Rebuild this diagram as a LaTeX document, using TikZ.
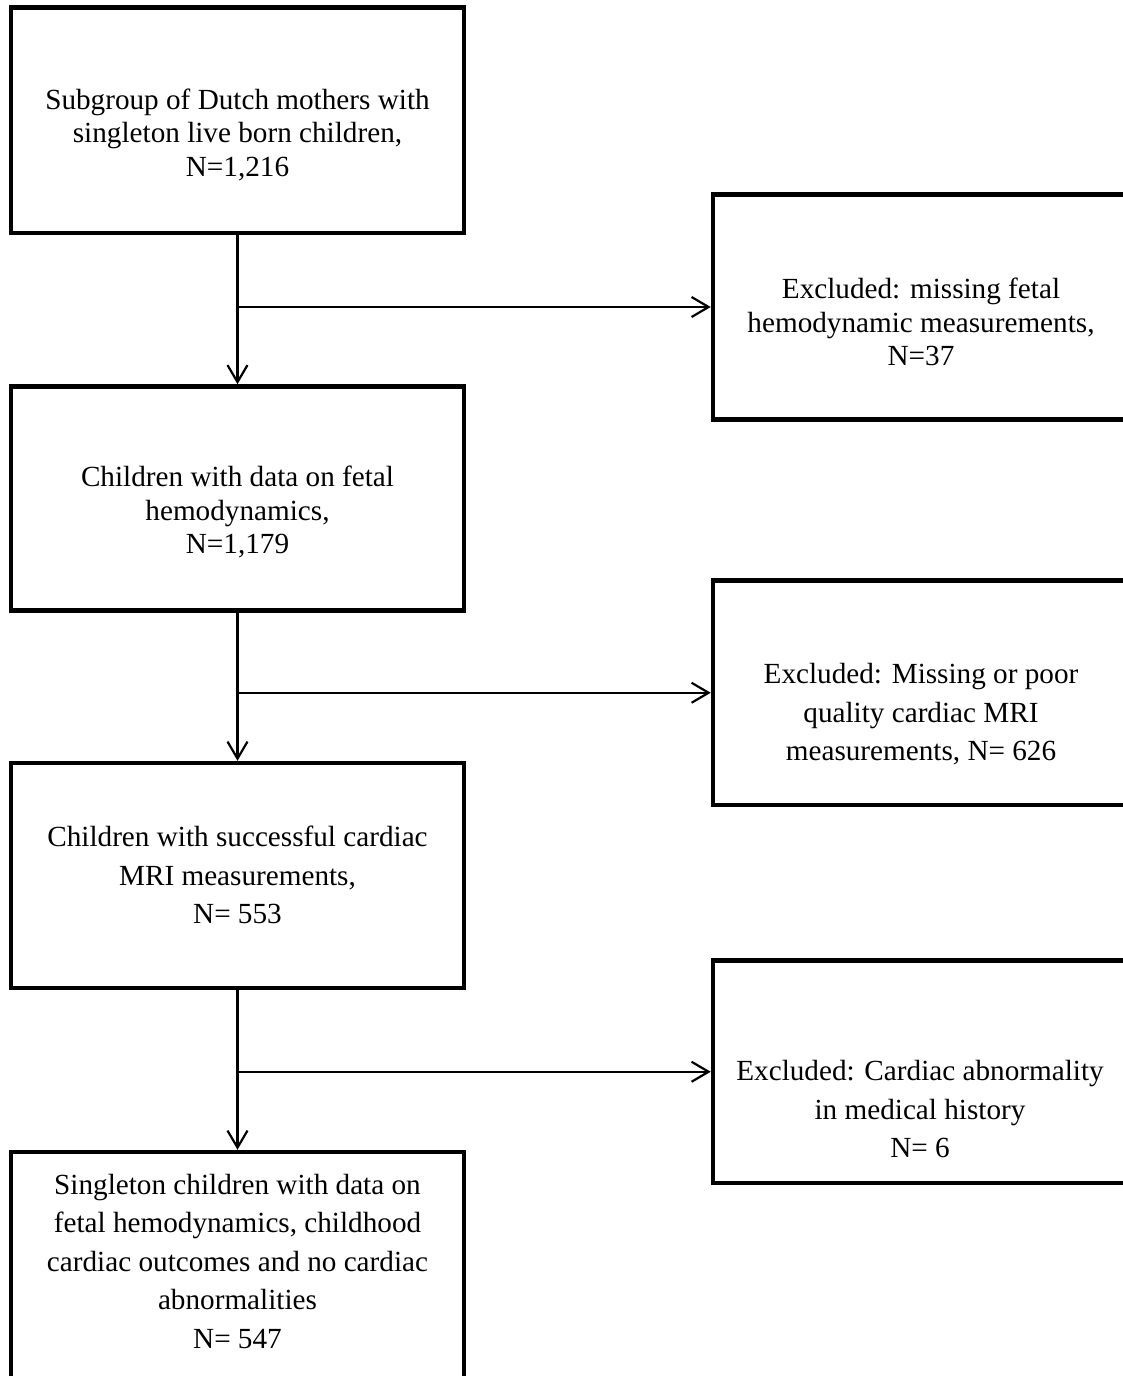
\documentclass[tikz,border=0pt]{standalone}
\usepackage{fontspec}
\setmainfont{Liberation Serif}
\usetikzlibrary{arrows.meta}

\tikzset{
  box/.style={draw,line width=2.25pt,minimum width=226.5pt,inner sep=0pt},
  exbox/.style={box,minimum width=208pt},
  txt/.style={align=center,font=\fontsize{14.6}{16.75}\selectfont},
  txtwide/.style={align=center,font=\fontsize{14.6}{19.25}\selectfont},
  arr/.style={line width=1.1pt,-{Straight Barb[length=8.5pt,width=10pt]}}
}

\begin{document}
\begin{tikzpicture}[x=0.5pt,y=-0.5pt]
    \useasboundingbox (0,0) rectangle (1123,1376);
    \clip (0,0) rectangle (1123,1376);
      % main column
      \node[box,minimum height=112.75pt] (B1) at (237.5,120.25) {};
      \node[box,minimum height=112pt] (B2) at (237.5,498.5) {};
      \node[box,minimum height=112.5pt] (B3) at (237.5,875.5) {};
      \node[box,minimum height=114pt] (B4) at (237.5,1266) {};
      % excluded column
      \node[exbox,minimum height=112.5pt] (R1) at (921,307) {};
      \node[exbox,minimum height=112.25pt] (R2) at (921,692.75) {};
      \node[exbox,minimum height=111.25pt] (R3) at (921,1071.75) {};
      % texts
      \node[txt] (T1) at (237.5,134.5) {Subgroup of Dutch mothers with\\singleton live born children,\\N=1,216};
      \node[txt] (T2) at (237.5,512) {Children with data on fetal\\hemodynamics,\\N=1,179};
      \node[txtwide] (T3) at (237.5,875) {Children with successful cardiac\\MRI measurements,\\N= 553};
      \node[txtwide] (T4) at (237.5,1261) {Singleton children with data on\\fetal hemodynamics, childhood\\cardiac outcomes and no cardiac\\abnormalities\\N= 547};
      \node[txt] (U1) at (921,322) {Excluded: missing fetal\\hemodynamic measurements,\\N=37};
      \node[txtwide] (U2) at (921,714.5) {Excluded: Missing or poor\\quality cardiac MRI\\measurements, N= 626};
      \node[txtwide] (U3) at (920,1109) {Excluded: Cardiac abnormality\\in medical history\\N= 6};
      % arrows down
      \draw[arr] (B1.south) -- (B2.north);
      \draw[arr] (B2.south) -- (B3.north);
      \draw[arr] (B3.south) -- (B4.north);
      % arrows out
      \draw[arr] (B1.south |- R1.west) -- (R1.west);
      \draw[arr] (B2.south |- R2.west) -- (R2.west);
      \draw[arr] (B3.south |- R3.west) -- (R3.west);
\end{tikzpicture}
\end{document}
